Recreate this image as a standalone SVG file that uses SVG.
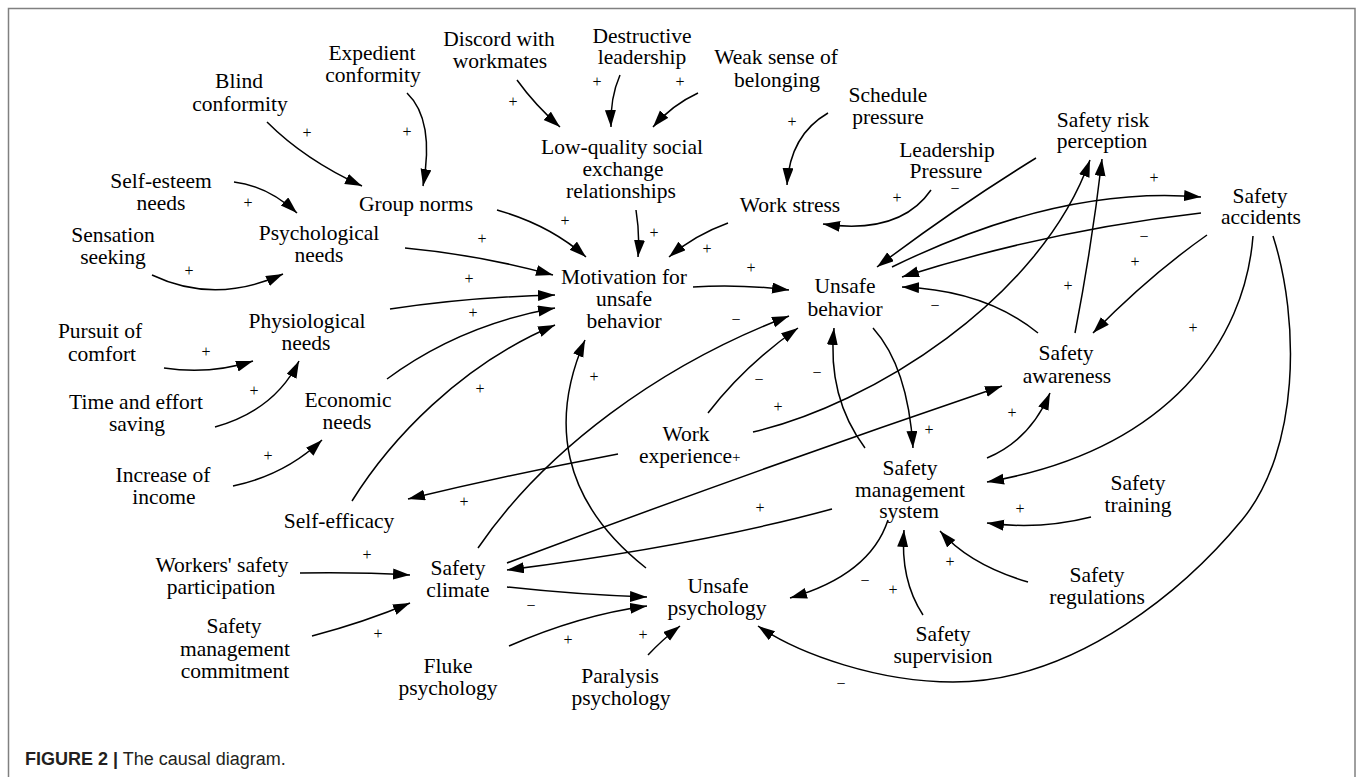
<svg xmlns="http://www.w3.org/2000/svg" width="1357" height="777" viewBox="0 0 1357 777">
<defs>
<marker id="ah" markerUnits="userSpaceOnUse" markerWidth="18" markerHeight="12" refX="17" refY="5.5" orient="auto">
<path d="M0,0 L17,5.5 L0,11 z" fill="#000"/>
</marker>
<style>
.n text{font-family:"Liberation Serif","Times New Roman",serif;font-size:21.5px;fill:#000;text-anchor:middle}
.c path{fill:none;stroke:#000;stroke-width:1.5;marker-end:url(#ah)}
.c text{font-family:"Liberation Serif","Times New Roman",serif;font-size:16px;fill:#000;text-anchor:middle}
.cap{font-family:"Liberation Sans",Arial,sans-serif;font-size:18px;fill:#231f20}
</style>
</defs>
<rect x="0" y="0" width="1357" height="777" fill="#fff"/>
<rect x="8.5" y="8.5" width="1346.5" height="800" fill="none" stroke="#808080" stroke-width="1.5"/>

<g id="connectors" class="c">
<path d="M267,122 Q305,160 362,186"/><text x="307" y="138">+</text>
<path d="M407,93 Q435,120 423,186"/><text x="407" y="137">+</text>
<path d="M234,182 Q268,186 297,213"/><text x="248" y="208">+</text>
<path d="M152,275 Q215,305 283,274"/><text x="189" y="276">+</text>
<path d="M517,80 Q535,105 560,127"/><text x="513" y="107">+</text>
<path d="M620,75 Q610,98 611,127"/><text x="597" y="87">+</text>
<path d="M698,93 Q672,105 653,127"/><text x="680" y="87">+</text>
<path d="M828,113 Q790,135 787,185"/><text x="792" y="127">+</text>
<path d="M931,190 Q900,235 823,224"/><text x="897" y="203">+</text><text x="955" y="194">−</text>
<path d="M1036,158 Q955,208 877,267"/>
<path d="M892,267 Q1060,185 1201,197"/><text x="1154" y="183">+</text>
<path d="M1201,213 Q1050,230 902,277"/><text x="1144" y="242">−</text>
<path d="M1207,235 Q1150,275 1093,333"/><text x="1135" y="267">+</text>
<path d="M1075,333 Q1092,245 1102,159"/><text x="1068" y="291">+</text>
<path d="M1038,333 Q985,290 902,287"/><text x="935" y="311">−</text>
<path d="M1253,236 C1245,340 1170,450 987,482"/><text x="1193" y="333">+</text>
<path d="M1273,236 C1300,320 1300,450 1242,520 C1190,583 1080,682 953,682 C880,682 800,655 758,626"/><text x="841" y="689">−</text>
<path d="M987,458 Q1030,440 1050,393"/><text x="1012" y="418">+</text>
<path d="M873,328 Q908,367 913,448"/><text x="929" y="435">+</text>
<path d="M865,448 Q827,397 834,328"/><text x="817" y="378">−</text>
<path d="M753,432 C870,405 1040,300 1090,160"/><text x="778" y="412">+</text>
<path d="M708,413 Q745,365 798,328"/><text x="759" y="385">−</text>
<path d="M478,548 C545,450 660,365 789,316"/><text x="736" y="325">−</text>
<path d="M497,210 Q550,225 586,257"/><text x="565" y="226">+</text>
<path d="M636,210 Q640,235 638,257"/><text x="654" y="238">+</text>
<path d="M728,223 Q695,235 669,257"/><text x="707" y="254">+</text>
<path d="M693,287 Q740,284 789,290"/><text x="751" y="273">+</text>
<path d="M405,248 Q480,255 553,275"/><text x="482" y="244">+</text>
<path d="M390,309 Q470,297 555,295"/><text x="469" y="284">+</text>
<path d="M387,379 Q460,325 555,308"/><text x="473" y="318">+</text>
<path d="M352,501 C390,440 460,365 555,325"/><text x="480" y="394">+</text>
<path d="M646,568 C560,500 550,420 585,340"/><text x="594" y="382">+</text>
<path d="M618,454 Q512,474 408,499"/><text x="464" y="507">+</text>
<path d="M507,563 Q755,470 1002,386"/>
<path d="M832,509 Q700,545 507,570"/><text x="760" y="513">+</text>
<path d="M507,587 Q580,595 647,597"/><text x="531" y="611">−</text>
<path d="M509,646 Q580,615 647,606"/><text x="568" y="645">+</text>
<path d="M648,655 Q662,640 680,626"/><text x="643" y="640">+</text>
<path d="M888,520 Q870,575 790,598"/><text x="865" y="586">−</text>
<path d="M923,615 Q900,580 904,530"/><text x="893" y="595">+</text>
<path d="M1028,582 Q970,565 940,531"/><text x="950" y="567">+</text>
<path d="M1091,517 Q1040,530 987,523"/><text x="1020" y="514">+</text>
<path d="M300,573 Q360,572 410,575"/><text x="367" y="560">+</text>
<path d="M312,636 Q365,622 410,603"/><text x="378" y="639">+</text>
<path d="M164,368 Q210,375 253,361"/><text x="206" y="357">+</text>
<path d="M215,427 Q275,410 299,361"/><text x="254" y="396">+</text>
<path d="M233,486 Q285,475 322,440"/><text x="268" y="461">+</text>
</g>

<g id="n-blind" class="n"><text x="239" y="88">Blind</text><text x="240" y="111">conformity</text></g>
<g id="n-expedient" class="n"><text x="372" y="60">Expedient</text><text x="373" y="82">conformity</text></g>
<g id="n-discord" class="n"><text x="499" y="46">Discord with</text><text x="500" y="68">workmates</text></g>
<g id="n-destructive" class="n"><text x="642" y="43">Destructive</text><text x="642" y="64">leadership</text></g>
<g id="n-weak" class="n"><text x="776" y="64">Weak sense of</text><text x="777" y="87">belonging</text></g>
<g id="n-schedule" class="n"><text x="888" y="102">Schedule</text><text x="888" y="124">pressure</text></g>
<g id="n-risk-perception" class="n"><text x="1103" y="127">Safety risk</text><text x="1102" y="148">perception</text></g>
<g id="n-leadership-pressure" class="n"><text x="947" y="157">Leadership</text><text x="946" y="178">Pressure</text></g>
<g id="n-self-esteem" class="n"><text x="161" y="188">Self-esteem</text><text x="161" y="210">needs</text></g>
<g id="n-group-norms" class="n"><text x="416" y="211">Group norms</text></g>
<g id="n-low-quality" class="n"><text x="622" y="154">Low-quality social</text><text x="623" y="176">exchange</text><text x="621" y="198">relationships</text></g>
<g id="n-work-stress" class="n"><text x="790" y="212">Work stress</text></g>
<g id="n-accidents" class="n"><text x="1260" y="203">Safety</text><text x="1261" y="224">accidents</text></g>
<g id="n-sensation" class="n"><text x="113" y="242">Sensation</text><text x="113" y="264">seeking</text></g>
<g id="n-psychological" class="n"><text x="319" y="240">Psychological</text><text x="319" y="262">needs</text></g>
<g id="n-motivation" class="n"><text x="624" y="284">Motivation for</text><text x="624" y="306">unsafe</text><text x="624" y="328">behavior</text></g>
<g id="n-unsafe-behavior" class="n"><text x="845" y="293">Unsafe</text><text x="845" y="316">behavior</text></g>
<g id="n-comfort" class="n"><text x="100" y="338">Pursuit of</text><text x="102" y="361">comfort</text></g>
<g id="n-physiological" class="n"><text x="307" y="328">Physiological</text><text x="306" y="350">needs</text></g>
<g id="n-awareness" class="n"><text x="1066" y="360">Safety</text><text x="1067" y="383">awareness</text></g>
<g id="n-time" class="n"><text x="136" y="409">Time and effort</text><text x="137" y="431">saving</text></g>
<g id="n-economic" class="n"><text x="348" y="407">Economic</text><text x="347" y="429">needs</text></g>
<g id="n-work-experience" class="n"><text x="686" y="441">Work</text><text x="639" y="463" style="text-anchor:start">experience<tspan font-size="15" dy="-1">+</tspan></text></g>
<g id="n-income" class="n"><text x="163" y="482">Increase of</text><text x="164" y="504">income</text></g>
<g id="n-sms" class="n"><text x="910" y="475">Safety</text><text x="910" y="497">management</text><text x="909" y="518">system</text></g>
<g id="n-training" class="n"><text x="1138" y="490">Safety</text><text x="1138" y="512">training</text></g>
<g id="n-self-efficacy" class="n"><text x="339" y="528">Self-efficacy</text></g>
<g id="n-participation" class="n"><text x="222" y="572">Workers' safety</text><text x="221" y="594">participation</text></g>
<g id="n-climate" class="n"><text x="458" y="575">Safety</text><text x="458" y="597">climate</text></g>
<g id="n-unsafe-psychology" class="n"><text x="718" y="593">Unsafe</text><text x="717" y="615">psychology</text></g>
<g id="n-regulations" class="n"><text x="1097" y="582">Safety</text><text x="1097" y="604">regulations</text></g>
<g id="n-commitment" class="n"><text x="234" y="633">Safety</text><text x="235" y="656">management</text><text x="235" y="678">commitment</text></g>
<g id="n-supervision" class="n"><text x="943" y="641">Safety</text><text x="943" y="663">supervision</text></g>
<g id="n-fluke" class="n"><text x="448" y="673">Fluke</text><text x="448" y="695">psychology</text></g>
<g id="n-paralysis" class="n"><text x="620" y="683">Paralysis</text><text x="621" y="705">psychology</text></g>

<text class="cap" x="25" y="765"><tspan font-weight="bold">FIGURE 2 |</tspan> The causal diagram.</text>
</svg>
